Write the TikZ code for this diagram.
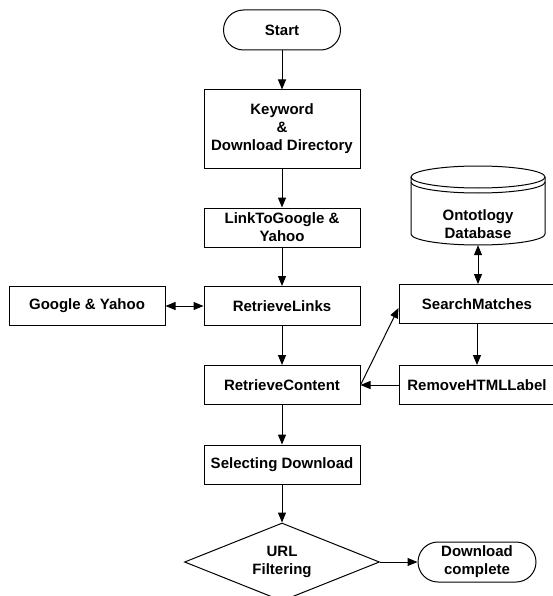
\documentclass[tikz,border=0pt]{standalone}
\usepackage{fontspec}
\setmainfont{Liberation Sans}
\usetikzlibrary{shapes.geometric,arrows.meta,calc}
\begin{document}
\begin{tikzpicture}[x=1pt,y=-1pt,
  every node/.style={font=\bfseries\fontsize{15}{18}\selectfont, align=center},
  box/.style={draw, line width=1pt, minimum width=156pt, minimum height=39pt, inner sep=0pt},
  term/.style={draw, line width=1pt, rounded corners=20pt, minimum width=117pt, minimum height=40pt, inner sep=0pt},
  dec/.style={draw, diamond, line width=1pt, minimum width=195pt, minimum height=78pt, inner sep=0pt, aspect=2.5},
  conn/.style={line width=1pt, -{Triangle[length=10pt,width=8pt]}},
  bconn/.style={line width=1pt, {Triangle[length=10pt,width=8pt]}-{Triangle[length=10pt,width=8pt]}},
  dbline/.style={line width=1pt}
]
\useasboundingbox (0,0) rectangle (553,596);
\fill[white] (0,0) rectangle (553,596);

\node[term] (start) at (282,30) {Start};
\node[box, minimum height=78pt] (kw) at (282,129) {Keyword\\\&\\Download Directory};
\node[box] (link) at (282,227.5) {LinkToGoogle \&\\Yahoo};
\node[box] (rl) at (282,306) {RetrieveLinks};
\node[box] (gy) at (87,306) {Google \& Yahoo};
\node[box] (rc) at (282,385) {RetrieveContent};
\node[box] (sel) at (282,464.5) {Selecting Download};
\node[dec] (url) at (282,562) {URL\\Filtering};
\node[term, minimum width=118pt] (dc) at (477,562) {Download\\complete};
\node[box] (sm) at (477,304) {SearchMatches};
\node[box] (rh) at (477,385) {RemoveHTMLLabel};

% database cylinder
\draw[dbline] (411,177) -- (411,234) arc[start angle=180, end angle=0, x radius=67, y radius=11] -- (545,177);
\draw[dbline] (478,177) ellipse[x radius=67, y radius=11];
\draw[dbline] (411,182) arc[start angle=180, end angle=0, x radius=67, y radius=11];
\node[inner sep=0pt, minimum height=42pt] (db) at (478,224) {Ontotlogy\\Database};

\draw[conn] (start) -- (kw);
\draw[conn] (kw) -- (link);
\draw[conn] (link) -- (rl);
\draw[bconn] (gy) -- (rl);
\draw[conn] (rl) -- (rc);
\draw[conn] (rc) -- (sel);
\draw[conn] (sel) -- (url);
\draw[conn] (url) -- (dc);
\draw[bconn] (db.south) -- (db.south |- sm.north);
\draw[conn] (sm) -- (rh);
\draw[conn] (rh) -- (rc);
\draw[conn] (rc.east) -- ([yshift=-4pt]sm.west);
\end{tikzpicture}
\end{document}
